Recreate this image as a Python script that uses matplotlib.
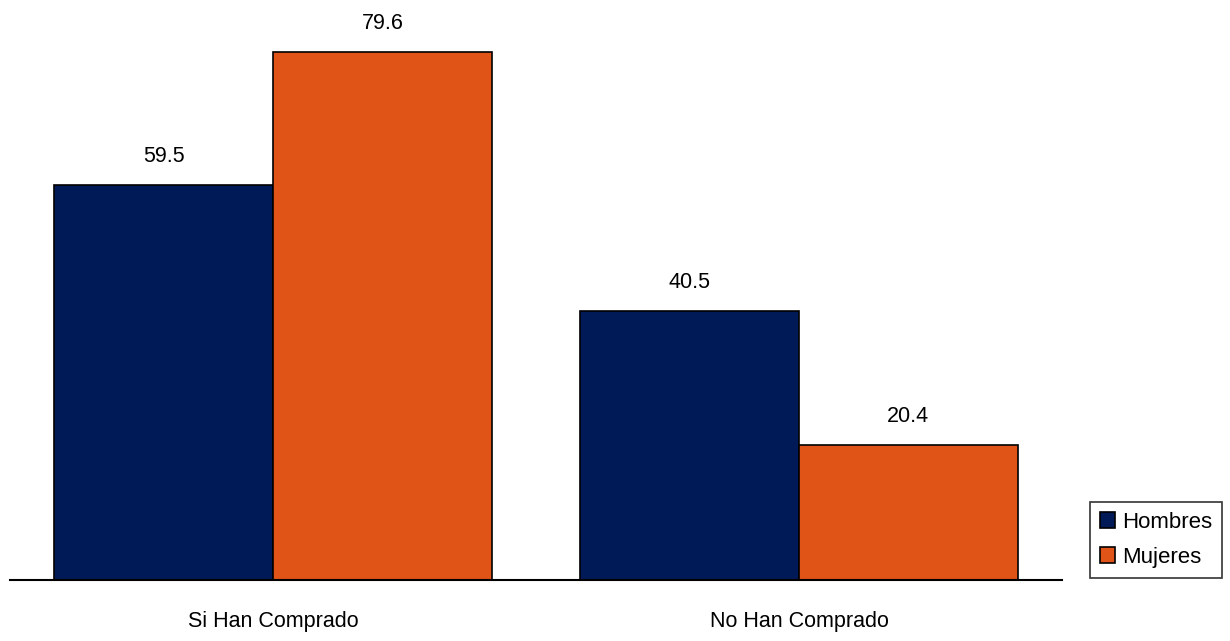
import numpy as np
import matplotlib.pyplot as plt
from matplotlib import font_manager

categories = ["Si Han Comprado", "No Han Comprado"]
hombres = [59.5, 40.5]
mujeres = [79.6, 20.4]
series_names = ["Hombres", "Mujeres"]
colors = ["#001A57", "#E05418"]

names = {f.name for f in font_manager.fontManager.ttflist}
family = "Liberation Sans Narrow" if "Liberation Sans Narrow" in names else "Liberation Sans"
plt.rcParams["font.family"] = [family, "DejaVu Sans"]

fig = plt.figure(figsize=(12.3, 6.41), dpi=100)
ax = fig.add_axes([10 / 1230, 1 - 580 / 641, 1052 / 1230, 580 / 641])

x = np.arange(len(categories))
w = 0.416
bars_h = ax.bar(x - w / 2, hombres, w, color=colors[0], edgecolor="black",
                linewidth=1.2, label=series_names[0])
bars_m = ax.bar(x + w / 2, mujeres, w, color=colors[1], edgecolor="black",
                linewidth=1.2, label=series_names[1])

for bars in (bars_h, bars_m):
    for b in bars:
        ax.annotate(f"{b.get_height():.1f}",
                    (b.get_x() + b.get_width() / 2, b.get_height()),
                    xytext=(0, 13), textcoords="offset points",
                    ha="center", va="bottom", fontsize=15.5)

ax.set_xlim(-0.5, 1.5)
ax.set_ylim(0, 87.4)
ax.set_xticks(x)
ax.set_xticklabels(categories, fontsize=15.5)
ax.tick_params(axis="x", length=0, pad=22)
ax.set_yticks([])
for side in ("top", "right", "left"):
    ax.spines[side].set_visible(False)
ax.spines["bottom"].set_linewidth(1.5)

leg = fig.legend(loc="lower right", bbox_to_anchor=(1222 / 1230, 1 - 578 / 641),
                 borderaxespad=0, fontsize=16, frameon=True, fancybox=False,
                 edgecolor="black", handlelength=0.7, handleheight=0.7,
                 handletextpad=0.3, borderpad=0.45, labelspacing=0.65)
leg.get_frame().set_linewidth(1.2)

fig.savefig("out.png", dpi=100)
